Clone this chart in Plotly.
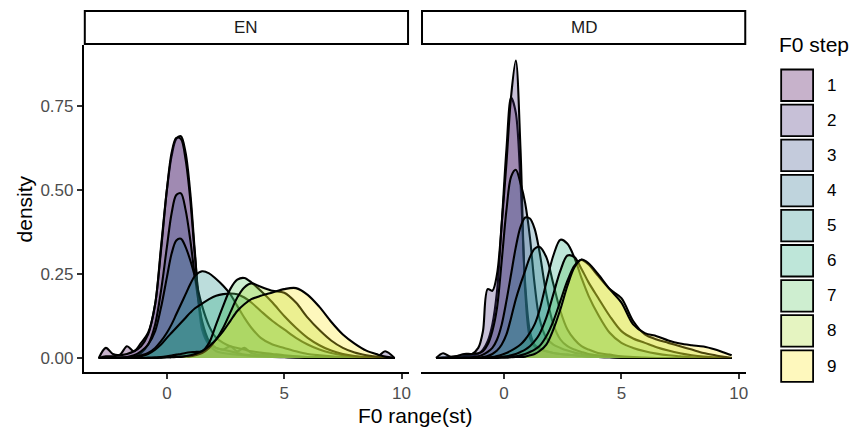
import plotly.graph_objects as go

# ---------------- data (density estimates) ----------------
STEPS = ["1", "2", "3", "4", "5", "6", "7", "8", "9"]
FACETS = ["EN", "MD"]
X_TICKS = [0, 5, 10]
Y_TICKS = [0.0, 0.25, 0.50, 0.75]
Y_TICK_LABELS = ["0.00", "0.25", "0.50", "0.75"]

EN_X = [-2.9, -2.6, -2.3, -2.0, -1.7, -1.4, -1.1, -0.8, -0.5, -0.25,
        0.0, 0.2, 0.4, 0.6, 0.8, 1.0, 1.2, 1.5, 1.8, 2.1,
        2.4, 2.7, 3.0, 3.3, 3.6, 4.0, 4.5, 5.0, 5.5, 6.0,
        6.5, 7.0, 7.5, 8.0, 8.5, 9.0, 9.3, 9.7]

EN_STEP1 = [0.0, 0.03, 0.012, 0.01, 0.035, 0.02, 0.045, 0.075, 0.16, 0.33,
            0.5, 0.6, 0.652, 0.66, 0.61, 0.49, 0.31, 0.085, 0.04, 0.03,
            0.025, 0.035, 0.02, 0.03, 0.015, 0.01, 0.008, 0.005, 0.004, 0.003,
            0.002, 0.001, 0.0, 0.0, 0.0, 0.0, 0.0, 0.0]
EN_STEP2 = [0.0, 0.005, 0.005, 0.008, 0.012, 0.02, 0.035, 0.07, 0.16, 0.32,
            0.5, 0.61, 0.655, 0.652, 0.59, 0.47, 0.3, 0.1, 0.04, 0.02,
            0.015, 0.012, 0.01, 0.008, 0.006, 0.005, 0.004, 0.003, 0.002, 0.002,
            0.002, 0.002, 0.002, 0.002, 0.003, 0.005, 0.02, 0.0]
EN_STEP3 = [0.0, 0.0, 0.0, 0.001, 0.002, 0.005, 0.015, 0.04, 0.1, 0.2,
            0.33, 0.43, 0.485, 0.49, 0.44, 0.35, 0.24, 0.11, 0.05, 0.03,
            0.025, 0.02, 0.015, 0.01, 0.008, 0.005, 0.003, 0.002, 0.001, 0.0,
            0.0, 0.0, 0.0, 0.0, 0.0, 0.0, 0.0, 0.0]
EN_STEP4 = [0.0, 0.0, 0.0, 0.001, 0.003, 0.008, 0.02, 0.04, 0.08, 0.15,
            0.24, 0.31, 0.35, 0.355, 0.33, 0.29, 0.24, 0.155, 0.095, 0.06,
            0.045, 0.035, 0.03, 0.025, 0.02, 0.016, 0.012, 0.008, 0.005, 0.003,
            0.002, 0.001, 0.0, 0.0, 0.0, 0.0, 0.0, 0.0]
EN_STEP5 = [0.0, 0.0, 0.0, 0.0, 0.001, 0.003, 0.008, 0.015, 0.03, 0.05,
            0.075, 0.1, 0.13, 0.16, 0.19, 0.22, 0.245, 0.258, 0.252, 0.235,
            0.215, 0.19, 0.155, 0.12, 0.09, 0.06, 0.04, 0.03, 0.02, 0.012,
            0.008, 0.005, 0.003, 0.001, 0.0, 0.0, 0.0, 0.0]
EN_STEP6 = [0.0, 0.0, 0.0, 0.0, 0.0, 0.002, 0.005, 0.012, 0.025, 0.04,
            0.06, 0.075, 0.09, 0.105, 0.12, 0.135, 0.148, 0.162, 0.175, 0.185,
            0.19, 0.192, 0.19, 0.18, 0.165, 0.14, 0.11, 0.085, 0.06, 0.04,
            0.025, 0.015, 0.008, 0.004, 0.002, 0.0, 0.0, 0.0]
EN_STEP7 = [0.0, 0.0, 0.0, 0.0, 0.0, 0.0, 0.0, 0.001, 0.002, 0.003,
            0.005, 0.007, 0.01, 0.012, 0.015, 0.017, 0.018, 0.02, 0.045, 0.1,
            0.155, 0.205, 0.233, 0.238, 0.225, 0.2, 0.165, 0.125, 0.09, 0.06,
            0.038, 0.022, 0.012, 0.006, 0.003, 0.001, 0.0, 0.0]
EN_STEP8 = [0.0, 0.0, 0.0, 0.0, 0.0, 0.0, 0.0, 0.0, 0.0, 0.001,
            0.002, 0.003, 0.004, 0.004, 0.005, 0.005, 0.008, 0.015, 0.03, 0.055,
            0.09, 0.135, 0.18, 0.21, 0.222, 0.212, 0.2, 0.194, 0.165, 0.12,
            0.083, 0.052, 0.03, 0.016, 0.008, 0.003, 0.001, 0.0]
EN_STEP9 = [0.0, 0.0, 0.0, 0.0, 0.0, 0.0, 0.0, 0.0, 0.0, 0.001,
            0.002, 0.002, 0.003, 0.003, 0.005, 0.008, 0.012, 0.02, 0.035, 0.055,
            0.08, 0.11, 0.14, 0.16, 0.175, 0.185, 0.195, 0.205, 0.208, 0.188,
            0.152, 0.108, 0.07, 0.043, 0.022, 0.01, 0.004, 0.0]

MD_X = [-2.9, -2.6, -2.3, -2.0, -1.7, -1.4, -1.1, -0.9, -0.7, -0.5,
        -0.3, -0.1, 0.1, 0.3, 0.5, 0.7, 0.9, 1.1, 1.3, 1.5,
        1.8, 2.1, 2.4, 2.7, 3.0, 3.3, 3.6, 4.0, 4.5, 5.0,
        5.5, 6.0, 6.5, 7.0, 7.5, 8.0, 8.5, 9.0, 9.3, 9.7]

MD_STEP1 = [0.0, 0.0, 0.0, 0.002, 0.004, 0.006, 0.012, 0.025, 0.05, 0.1,
            0.2, 0.4, 0.62, 0.775, 0.73, 0.52, 0.22, 0.08, 0.04, 0.03,
            0.02, 0.015, 0.012, 0.01, 0.008, 0.006, 0.004, 0.003, 0.002, 0.001,
            0.0, 0.0, 0.0, 0.0, 0.0, 0.0, 0.0, 0.0, 0.0, 0.0]
MD_STEP2 = [0.0, 0.002, 0.003, 0.004, 0.006, 0.01, 0.03, 0.08, 0.205, 0.2,
            0.25, 0.4, 0.58, 0.78, 0.885, 0.62, 0.2, 0.06, 0.035, 0.025,
            0.02, 0.015, 0.012, 0.01, 0.008, 0.006, 0.004, 0.003, 0.002, 0.001,
            0.0, 0.0, 0.0, 0.0, 0.0, 0.0, 0.0, 0.0, 0.0, 0.0]
MD_STEP3 = [0.0, 0.014, 0.004, 0.006, 0.012, 0.012, 0.014, 0.02, 0.04, 0.08,
            0.15, 0.29, 0.44, 0.54, 0.56, 0.52, 0.46, 0.36, 0.22, 0.12,
            0.06, 0.04, 0.03, 0.022, 0.016, 0.012, 0.008, 0.005, 0.003, 0.001,
            0.0, 0.0, 0.0, 0.0, 0.0, 0.0, 0.0, 0.0, 0.0, 0.0]
MD_STEP4 = [0.0, 0.0, 0.0, 0.0, 0.001, 0.002, 0.005, 0.01, 0.018, 0.03,
            0.055, 0.1, 0.17, 0.25, 0.33, 0.39, 0.418, 0.415, 0.385, 0.32,
            0.19, 0.1, 0.055, 0.035, 0.025, 0.018, 0.012, 0.008, 0.005, 0.003,
            0.001, 0.0, 0.0, 0.0, 0.0, 0.0, 0.0, 0.0, 0.0, 0.0]
MD_STEP5 = [0.0, 0.0, 0.0, 0.0, 0.0, 0.0, 0.001, 0.003, 0.006, 0.012,
            0.022, 0.04, 0.07, 0.12, 0.175, 0.22, 0.26, 0.3, 0.325, 0.331,
            0.3, 0.22, 0.14, 0.085, 0.055, 0.035, 0.025, 0.015, 0.01, 0.005,
            0.003, 0.001, 0.0, 0.0, 0.0, 0.0, 0.0, 0.0, 0.0, 0.0]
MD_STEP6 = [0.0, 0.0, 0.0, 0.0, 0.0, 0.0, 0.0, 0.001, 0.002, 0.003,
            0.006, 0.01, 0.015, 0.022, 0.03, 0.04, 0.055, 0.075, 0.1, 0.14,
            0.225, 0.305, 0.352, 0.34, 0.298, 0.238, 0.185, 0.13, 0.075, 0.045,
            0.03, 0.02, 0.013, 0.008, 0.005, 0.002, 0.001, 0.0, 0.0, 0.0]
MD_STEP7 = [0.0, 0.0, 0.0, 0.0, 0.0, 0.0, 0.0, 0.0, 0.001, 0.002,
            0.002, 0.003, 0.005, 0.008, 0.012, 0.018, 0.025, 0.035, 0.05, 0.07,
            0.12, 0.19, 0.26, 0.305, 0.3, 0.265, 0.225, 0.18, 0.125, 0.08,
            0.058, 0.045, 0.032, 0.022, 0.014, 0.008, 0.004, 0.002, 0.001, 0.0]
MD_STEP8 = [0.0, 0.0, 0.0, 0.0, 0.0, 0.0, 0.0, 0.0, 0.0, 0.0,
            0.001, 0.002, 0.003, 0.004, 0.005, 0.008, 0.012, 0.018, 0.025, 0.035,
            0.065, 0.11, 0.17, 0.23, 0.275, 0.292, 0.278, 0.245, 0.205, 0.178,
            0.11, 0.07, 0.055, 0.045, 0.035, 0.025, 0.015, 0.008, 0.004, 0.0]
MD_STEP9 = [0.0, 0.0, 0.0, 0.0, 0.0, 0.0, 0.0, 0.0, 0.0, 0.0,
            0.0, 0.001, 0.001, 0.002, 0.003, 0.003, 0.004, 0.008, 0.012, 0.02,
            0.04, 0.085, 0.145, 0.215, 0.27, 0.293, 0.282, 0.25, 0.205, 0.165,
            0.1, 0.074, 0.065, 0.052, 0.043, 0.038, 0.034, 0.025, 0.018, 0.008]

EN_Y = [EN_STEP1, EN_STEP2, EN_STEP3, EN_STEP4, EN_STEP5, EN_STEP6, EN_STEP7, EN_STEP8, EN_STEP9]
MD_Y = [MD_STEP1, MD_STEP2, MD_STEP3, MD_STEP4, MD_STEP5, MD_STEP6, MD_STEP7, MD_STEP8, MD_STEP9]

# ---------------- style ----------------
VIRIDIS = ["#440154", "#472D7B", "#3B528B", "#2C728E", "#21908C",
           "#27AD81", "#5DC863", "#AADC32", "#FDE725"]
ALPHA = 0.3
FONT = "Liberation Sans, Arial, Helvetica, sans-serif"
W, H = 856, 430


def rgba(hx, a):
    h = hx.lstrip("#")
    return "rgba({},{},{},{})".format(int(h[0:2], 16), int(h[2:4], 16), int(h[4:6], 16), a)


def px_x(p):
    return p / W


def px_y(p):
    return 1 - p / H


PANEL_TOP, PANEL_BOTTOM = 45, 372
PANELS_X = [(84, 410), (422, 748)]
STRIP_TOP, STRIP_BOTTOM = 11, 44

fig = go.Figure()

for f, (xs, ys_all) in enumerate([(EN_X, EN_Y), (MD_X, MD_Y)]):
    xa = "x" if f == 0 else "x2"
    ya = "y" if f == 0 else "y2"
    for i, ys in enumerate(ys_all):
        fig.add_trace(go.Scatter(
            x=xs, y=ys, mode="lines", name=STEPS[i],
            line=dict(color="black", width=2.1, shape="spline", smoothing=0.9),
            fill="tozeroy", fillcolor=rgba(VIRIDIS[i], ALPHA),
            xaxis=xa, yaxis=ya, showlegend=False, hoverinfo="skip"))

axis_common = dict(
    showgrid=False, zeroline=False, showline=True, linecolor="black", linewidth=1.8,
    ticks="outside", ticklen=5, tickwidth=1.5, tickcolor="#333333",
    tickfont=dict(family=FONT, size=17, color="#4D4D4D"),
)
yd = [px_y(PANEL_BOTTOM), px_y(PANEL_TOP)]
yrange = [-0.0417, 0.9315]
xrange = [-3.54, 10.32]

fig.update_layout(
    width=W, height=H, margin=dict(l=0, r=0, t=0, b=0),
    paper_bgcolor="white", plot_bgcolor="white",
    font=dict(family=FONT, color="black"),
    showlegend=False,
    xaxis=dict(domain=[px_x(PANELS_X[0][0]), px_x(PANELS_X[0][1])], range=xrange,
               tickvals=X_TICKS, anchor="y", **axis_common),
    xaxis2=dict(domain=[px_x(PANELS_X[1][0]), px_x(PANELS_X[1][1])], range=xrange,
                tickvals=X_TICKS, anchor="y2", **axis_common),
    yaxis=dict(domain=yd, range=yrange, tickvals=Y_TICKS, ticktext=Y_TICK_LABELS,
               anchor="x", **axis_common),
    yaxis2=dict(domain=yd, range=yrange, anchor="x2", showgrid=False, zeroline=False,
                showline=False, showticklabels=False, ticks=""),
)

shapes = []
annotations = []
# facet strips
for f, (x0, x1) in enumerate(PANELS_X):
    shapes.append(dict(type="rect", xref="paper", yref="paper",
                       x0=px_x(x0 + 1), x1=px_x(x1 - 1), y0=px_y(STRIP_BOTTOM), y1=px_y(STRIP_TOP),
                       line=dict(color="black", width=2), fillcolor="white"))
    annotations.append(dict(text=FACETS[f], xref="paper", yref="paper",
                            x=px_x((x0 + x1) / 2), y=px_y((STRIP_TOP + STRIP_BOTTOM) / 2),
                            showarrow=False, xanchor="center", yanchor="middle",
                            font=dict(family=FONT, size=17, color="#1A1A1A")))

# axis titles
annotations.append(dict(text="F0 range(st)", xref="paper", yref="paper",
                        x=px_x((PANELS_X[0][0] + PANELS_X[1][1]) / 2), y=px_y(415),
                        showarrow=False, xanchor="center", yanchor="middle",
                        font=dict(family=FONT, size=21, color="black")))
annotations.append(dict(text="density", xref="paper", yref="paper",
                        x=px_x(25), y=px_y((PANEL_TOP + PANEL_BOTTOM) / 2), textangle=-90,
                        showarrow=False, xanchor="center", yanchor="middle",
                        font=dict(family=FONT, size=21, color="black")))

# legend (drawn manually to match ggplot's large keys)
LEG_X0, LEG_KEY_W, LEG_TOP, LEG_PITCH, LEG_KEY_H = 783, 32, 69.5, 35.1, 31.5
annotations.append(dict(text="F0 step", xref="paper", yref="paper",
                        x=px_x(779), y=px_y(44), showarrow=False,
                        xanchor="left", yanchor="middle",
                        font=dict(family=FONT, size=21, color="black")))
for i, s in enumerate(STEPS):
    top = LEG_TOP + LEG_PITCH * i
    shapes.append(dict(type="rect", xref="paper", yref="paper",
                       x0=px_x(LEG_X0), x1=px_x(LEG_X0 + LEG_KEY_W),
                       y0=px_y(top + LEG_KEY_H), y1=px_y(top),
                       line=dict(color="black", width=1.8), fillcolor=rgba(VIRIDIS[i], ALPHA)))
    annotations.append(dict(text=s, xref="paper", yref="paper",
                            x=px_x(827), y=px_y(top + LEG_KEY_H / 2), showarrow=False,
                            xanchor="left", yanchor="middle",
                            font=dict(family=FONT, size=17, color="black")))

fig.update_layout(shapes=shapes, annotations=annotations)

fig.write_html("out.html", config={"displayModeBar": False},
               post_script="document.body.style.margin='0px';")
